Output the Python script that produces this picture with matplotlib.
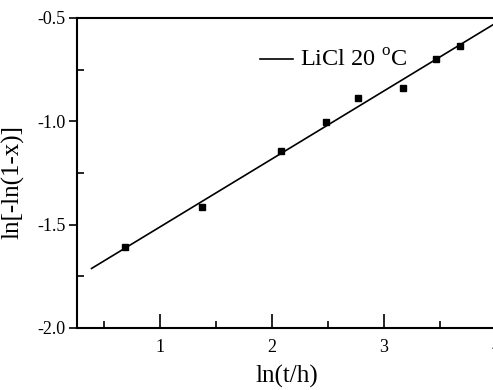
import matplotlib
matplotlib.use("Agg")
import matplotlib.pyplot as plt
import numpy as np
from matplotlib.ticker import MultipleLocator, FormatStrFormatter

# ln(t/h) and ln[-ln(1-x)]
ln_t = [0.69, 1.38, 2.08, 2.48, 2.77, 3.17, 3.46, 3.68]
ln_ln = [-1.61, -1.415, -1.145, -1.005, -0.888, -0.837, -0.699, -0.636]
fit_range = [0.39, 4.05]
legend_label = "LiCl 20 $^{\\mathrm{o}}$C"

plt.rcParams["font.family"] = ["Liberation Serif", "DejaVu Serif"]
plt.rcParams["mathtext.fontset"] = "custom"
plt.rcParams["mathtext.rm"] = "Liberation Serif"

fig = plt.figure(figsize=(4.93, 3.9), dpi=100)
ax = fig.add_axes([77 / 493, 62 / 390, 419 / 493, 310 / 390])

# least-squares line through the points
slope, intercept = np.polyfit(ln_t, ln_ln, 1)
xs = np.array(fit_range)
ax.plot(xs, slope * xs + intercept, color="black", lw=1.2, label=legend_label,
        clip_on=False)
ax.plot(ln_t, ln_ln, "s", color="black", ms=5, zorder=3)

ax.set_xlim(0.26, 4.0)
ax.set_ylim(-2.0, -0.5)
ax.xaxis.set_major_locator(MultipleLocator(1))
ax.xaxis.set_minor_locator(MultipleLocator(0.5))
ax.yaxis.set_major_locator(MultipleLocator(0.5))
ax.yaxis.set_minor_locator(MultipleLocator(0.25))
ax.yaxis.set_major_formatter(FormatStrFormatter("%.1f"))

ax.tick_params(axis="x", which="major", direction="in", length=10, width=1.2,
               labelsize=13, pad=8)
ax.tick_params(axis="x", which="minor", direction="in", length=5, width=1.2)
ax.tick_params(axis="y", which="major", direction="out", length=6, width=1.2,
               labelsize=13, pad=2)
ax.tick_params(axis="y", which="minor", direction="in", length=5, width=1.2)
for side in ["left", "bottom", "top", "right"]:
    ax.spines[side].set_linewidth(1.5)

ax.set_xlabel("ln(t/h)", fontsize=18, labelpad=6)
ax.set_ylabel("ln[-ln(1-x)]", fontsize=18, labelpad=2)
ax.yaxis.set_label_coords(-0.125, 0.47)

ax.legend(loc="center left", bbox_to_anchor=((260 - 77) / 419, 0.861),
          frameon=False, fontsize=17.5, handlelength=1.36, handletextpad=0.3,
          borderpad=0, borderaxespad=0)

fig.savefig("out.png", dpi=100)
